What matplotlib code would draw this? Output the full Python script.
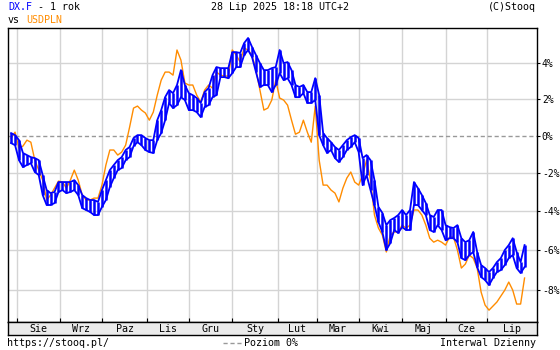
import numpy as np
import pandas as pd
import matplotlib
matplotlib.use("Agg")
import matplotlib.pyplot as plt
from matplotlib.ticker import FixedLocator, FixedFormatter, NullLocator

# % change over the year at every 2nd trading day
usdpln = [
    -0.14, 0.18, -0.68, -0.57, -0.25, -0.36, -1.32, -1.85, -2.38, -3.42,
    -3.16, -2.80, -2.43, -2.48, -2.80, -2.38, -1.85, -2.38, -3.16, -3.42,
    -3.42, -3.32, -3.32, -2.64, -1.58, -0.78, -0.78, -1.05, -0.89, -0.52,
    0.45, 1.49, 1.60, 1.38, 1.22, 0.83, 1.27, 2.20, 3.03, 3.48,
    3.48, 3.31, 4.72, 4.15, 2.87, 2.76, 2.76, 2.20, 1.82, 2.48,
    2.76, 2.59, 3.48, 3.31, 3.26, 3.26, 4.72, 4.43, 4.04, 4.83,
    4.72, 4.43, 3.59, 2.48, 1.38, 1.49, 1.93, 3.03, 2.04, 1.93,
    1.65, 0.83, 0.07, 0.18, 0.83, 0.18, -0.36, 1.60, -1.32, -2.64,
    -2.64, -2.90, -3.06, -3.52, -2.80, -2.27, -1.95, -2.48, -2.64, -2.11,
    -1.32, -2.38, -4.20, -4.87, -5.23, -6.09, -5.23, -5.07, -5.07, -4.72,
    -4.87, -4.72, -3.94, -3.94, -4.20, -4.72, -5.39, -5.59, -5.49, -5.59,
    -5.74, -5.33, -5.33, -5.99, -6.90, -6.70, -6.25, -6.40, -6.90, -8.10,
    -8.74, -8.99, -8.79, -8.59, -8.30, -8.00, -7.60, -8.00, -8.69, -8.69,
    -7.40,
]
dx_high = [
    0.13, 0.02, -0.25, -0.94, -1.05, -1.16, -1.21, -1.32, -2.11, -2.90,
    -3.06, -3.00, -2.48, -2.48, -2.48, -2.48, -2.38, -2.64, -3.16, -3.32,
    -3.42, -3.42, -3.52, -2.90, -2.38, -1.85, -1.58, -1.32, -1.16, -0.78,
    -0.62, -0.14, 0.02, 0.02, -0.14, -0.25, -0.25, 0.83, 1.38, 2.09,
    2.48, 2.31, 2.76, 3.59, 2.76, 2.31, 2.20, 2.04, 1.77, 2.37,
    2.59, 3.31, 3.76, 3.70, 3.70, 3.70, 4.60, 4.60, 4.55, 5.11,
    5.40, 4.89, 4.43, 3.98, 3.59, 3.59, 3.70, 3.76, 4.72, 3.98,
    4.04, 3.59, 2.76, 2.65, 2.76, 2.37, 2.37, 3.14, 2.20, 0.13,
    -0.14, -0.36, -0.62, -0.78, -0.52, -0.25, -0.09, 0.02, -0.14, -1.21,
    -1.05, -1.32, -2.38, -3.78, -4.09, -4.72, -4.46, -4.35, -4.20, -3.94,
    -4.20, -3.94, -2.48, -2.80, -3.16, -3.58, -4.20, -4.30, -3.94, -3.94,
    -4.72, -4.82, -4.87, -4.72, -5.39, -5.59, -5.49, -5.07, -6.09, -6.75,
    -6.90, -7.10, -6.90, -6.60, -6.40, -5.99, -5.74, -5.39, -6.09, -6.60,
    -5.74,
]
dx_low = [
    -0.41, -0.52, -1.32, -1.69, -1.58, -1.48, -1.95, -2.11, -3.16, -3.68,
    -3.68, -3.58, -3.00, -2.90, -3.06, -3.00, -2.90, -3.16, -3.84, -3.94,
    -4.04, -4.20, -4.20, -3.78, -3.42, -2.74, -2.27, -1.85, -1.74, -1.32,
    -1.16, -0.57, -0.36, -0.52, -0.78, -0.89, -0.94, -0.25, 0.13, 0.83,
    1.77, 1.49, 1.65, 2.09, 1.93, 1.38, 1.38, 1.27, 1.00, 1.55,
    1.65, 2.09, 2.20, 3.20, 3.20, 3.14, 3.42, 3.76, 3.76, 4.43,
    4.72, 4.32, 3.48, 2.65, 2.76, 2.76, 2.37, 2.76, 3.42, 3.03,
    3.14, 2.76, 2.09, 2.09, 2.31, 1.77, 1.77, 1.93, 0.02, -0.52,
    -0.94, -0.78, -1.21, -1.42, -1.16, -0.78, -0.62, -0.36, -0.89, -2.64,
    -2.11, -2.90, -3.68, -4.56, -5.07, -5.99, -5.64, -4.97, -5.12, -4.82,
    -4.97, -4.97, -3.68, -3.68, -3.94, -4.20, -4.97, -5.07, -4.72, -4.97,
    -5.49, -5.39, -5.39, -5.59, -6.40, -6.50, -6.25, -6.09, -6.85, -7.35,
    -7.50, -7.75, -7.40, -7.10, -7.00, -6.75, -6.40, -6.25, -6.90, -7.15,
    -6.85,
]
month_labels = ["Sie", "Wrz", "Paz", "Lis", "Gru", "Sty",
                "Lut", "Mar", "Kwi", "Maj", "Cze", "Lip"]
y_ticks = [4, 2, 0, -2, -4, -6, -8]

BLUE = "#0000ff"
ORANGE = "#ff8c00"
GRID = "#d4d4d4"
FONT = "DejaVu Sans Mono"
FS = 7.2

days = pd.bdate_range("2024-07-29", "2025-07-28")
idx = np.arange(len(days))[::2]
months = days.to_period("M")
starts = [i for i in range(1, len(days)) if months[i] != months[i - 1]]

W, H = 560, 350
xlim = (-1.57, 266.3)
fig = plt.figure(figsize=(W / 100, H / 100), dpi=100)
fig.patch.set_facecolor("white")

def fx(px):
    return px / W

def fy(py):
    return 1 - py / H

ax = fig.add_axes([fx(8), fy(322), fx(537 - 8), (322 - 28) / H])
ax.set_yscale("log")
ax.set_xlim(*xlim)
ax.set_ylim(0.9043, 1.0597)

# grid
for s in starts:
    ax.axvline(s, color=GRID, lw=1, zorder=0)
for t in y_ticks:
    if t == 0:
        ax.axhline(1.0, color="#999999", lw=1, ls=(0, (3, 2)), zorder=1)
    else:
        ax.axhline(1 + t / 100, color=GRID, lw=1, zorder=0)

# USDPLN line
ax.plot(idx, 1 + np.array(usdpln) / 100, color=ORANGE, lw=1, zorder=2)

# DX.F daily range: high/low outline plus a bar at each point
hi = 1 + np.array(dx_high) / 100
lo = 1 + np.array(dx_low) / 100
ax.plot(idx, hi, color=BLUE, lw=1.3, zorder=3)
ax.plot(idx, lo, color=BLUE, lw=1.3, zorder=3)
ax.vlines(idx, lo, hi, color=BLUE, lw=1.8, zorder=3)

ax.yaxis.set_major_locator(FixedLocator([1 + t / 100 for t in y_ticks]))
ax.yaxis.set_major_formatter(FixedFormatter([f"{t}%" for t in y_ticks]))
ax.yaxis.set_minor_locator(NullLocator())
ax.yaxis.tick_right()
ax.tick_params(axis="y", length=2, pad=1.5, labelsize=7, direction="out")
for lab in ax.get_yticklabels():
    lab.set_family(FONT)
ax.xaxis.set_major_locator(FixedLocator(starts))
ax.tick_params(axis="x", direction="in", length=3, labelbottom=False)
for sp in ax.spines.values():
    sp.set_color("black")
    sp.set_linewidth(1)

# month band
band = fig.add_axes([fx(8), fy(335), fx(537 - 8), 13 / H])
band.set_facecolor("#ebebeb")
band.set_xlim(*xlim)
band.set_ylim(0, 1)
band.set_xticks([])
band.set_yticks([])
edges = starts + [xlim[1]]
for j, lab in enumerate(month_labels):
    band.text((edges[j] + edges[j + 1]) / 2, 0.45, lab, ha="center", va="center",
              fontsize=FS, family=FONT)
for sp in band.spines.values():
    sp.set_color("black")
    sp.set_linewidth(1)

# header
fig.text(fx(8), fy(10), "DX.F", color=BLUE, fontsize=FS, family=FONT, va="baseline")
fig.text(fx(8 + 4 * 5.93), fy(10), " - 1 rok", color="black", fontsize=FS,
         family=FONT, va="baseline")
fig.text(fx(8), fy(23), "vs", color="black", fontsize=FS, family=FONT, va="baseline")
fig.text(fx(8 + 3 * 5.93), fy(23), "USDPLN", color=ORANGE, fontsize=FS,
         family=FONT, va="baseline")
fig.text(fx(280), fy(10), "28 Lip 2025 18:18 UTC+2", ha="center", fontsize=FS,
         family=FONT, va="baseline")
fig.text(fx(536), fy(10), "(C)Stooq", ha="right", fontsize=FS, family=FONT,
         va="baseline")

# footer
fig.text(fx(7), fy(346), "https://stooq.pl/", fontsize=FS, family=FONT, va="baseline")
fig.add_artist(plt.Line2D([fx(223), fx(242)], [fy(343), fy(343)], color="#999999",
                          lw=1, ls=(0, (3, 2))))
fig.text(fx(244), fy(346), "Poziom 0%", fontsize=FS, family=FONT, va="baseline")
fig.text(fx(536), fy(346), "Interwal Dzienny", ha="right", fontsize=FS, family=FONT,
         va="baseline")

fig.savefig("out.png", dpi=100, facecolor="white")
